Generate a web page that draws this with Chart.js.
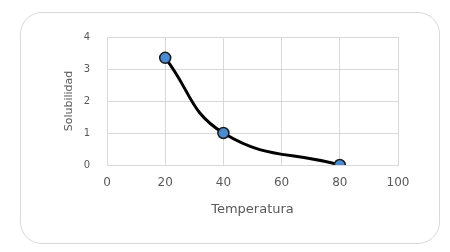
<!DOCTYPE html>
<html>
<head>
<meta charset="utf-8">
<script src="https://cdn.jsdelivr.net/npm/chart.js@4/dist/chart.umd.min.js"></script>
<style>
  html, body { margin: 0; padding: 0; background: #fff; }
  #wrap { position: relative; width: 450px; height: 252px; }
  #frame {
    position: absolute; left: 20px; top: 12px; width: 418px; height: 230px;
    border: 1px solid #d9d9d9; border-radius: 22px;
  }
  canvas { position: absolute; left: 0; top: 0; }
</style>
</head>
<body>
<div id="wrap">
  <div id="frame"></div>
  <canvas id="grafico" width="450" height="252"></canvas>
</div>
<script>
// datos
var temperaturas = [20, 40, 80];
var solubilidad = [3.35, 1, 0];
var xTicks = [0, 20, 40, 60, 80, 100];
var yTicks = [0, 1, 2, 3, 4];

var puntos = [];
for (var i = 0; i < temperaturas.length; i++) {
    puntos.push({x: temperaturas[i], y: solubilidad[i]});
}

var gris = "#595959";
var rejilla = "#d9d9d9";

var ctx = document.getElementById("grafico").getContext("2d");
new Chart(ctx, {
    type: "scatter",
    data: {
        datasets: [{
            data: puntos,
            showLine: true,
            tension: 0.45,
            borderColor: "#000000",
            borderWidth: 3,
            pointRadius: 5.5,
            pointBorderWidth: 1.5,
            pointBackgroundColor: "#4a8bd2",
            pointBorderColor: "#1a1a1a"
        }]
    },
    options: {
        responsive: false,
        animation: false,
        layout: {padding: {left: 58, right: 52, top: 37, bottom: 30}},
        plugins: {legend: {display: false}, tooltip: {enabled: false}},
        scales: {
            x: {
                type: "linear",
                min: xTicks[0],
                max: xTicks[xTicks.length - 1],
                afterBuildTicks: function (axis) {
                    axis.ticks = xTicks.map(function (v) { return {value: v}; });
                },
                afterFit: function (axis) { axis.height = 57; },
                grid: {color: rejilla, drawTicks: false, lineWidth: 1},
                border: {color: rejilla},
                ticks: {color: gris, font: {family: "DejaVu Sans", size: 12}, padding: 11, maxRotation: 0},
                title: {display: true, text: "Temperatura", color: gris,
                        font: {family: "DejaVu Sans", size: 13}, padding: {top: 0, bottom: 5}}
            },
            y: {
                type: "linear",
                min: yTicks[0],
                max: yTicks[yTicks.length - 1],
                afterBuildTicks: function (axis) {
                    axis.ticks = yTicks.map(function (v) { return {value: v}; });
                },
                afterFit: function (axis) { axis.width = 49; },
                grid: {color: rejilla, drawTicks: false, lineWidth: 1},
                border: {color: rejilla},
                ticks: {color: gris, font: {family: "DejaVu Sans", size: 10}, padding: 17},
                title: {display: true, text: "Solubilidad", color: gris,
                        font: {family: "DejaVu Sans", size: 11}, padding: {top: 5, bottom: 0}}
            }
        }
    }
});
</script>
</body>
</html>
